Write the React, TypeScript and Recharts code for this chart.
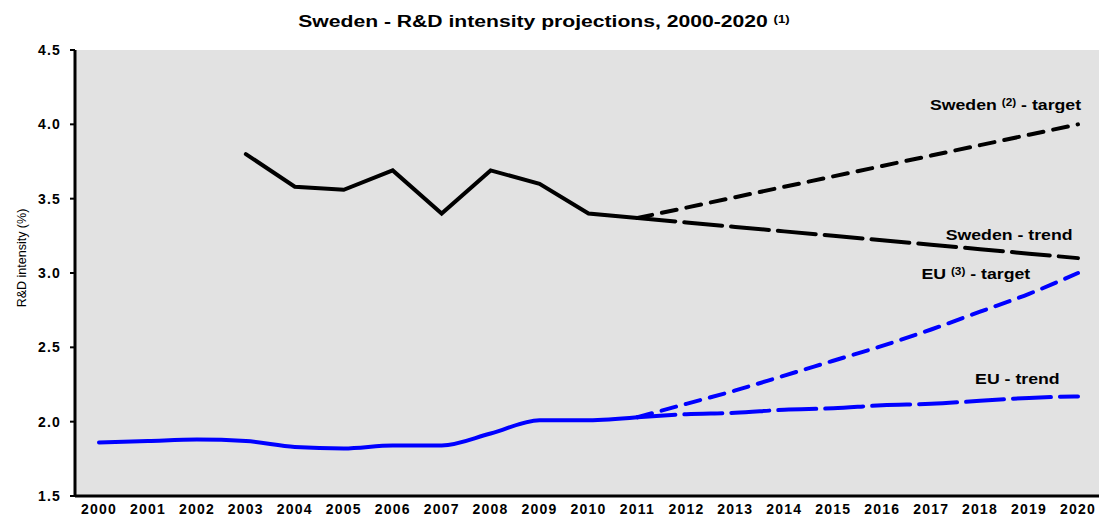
import React from 'react';
import { LineChart, Line, XAxis, YAxis, CartesianGrid } from 'recharts';

const years = [
    '2000', '2001', '2002', '2003', '2004', '2005', '2006', '2007', '2008', '2009', '2010',
    '2011', '2012', '2013', '2014', '2015', '2016', '2017', '2018', '2019', '2020'
];

// null where a series has no value for that year
const swedenActual = [null, null, null, 3.8, 3.58, 3.56, 3.69, 3.4, 3.69, 3.6, 3.4, 3.37, null, null, null, null, null, null, null, null, null];
const swedenTrend = [null, null, null, null, null, null, null, null, null, null, null, 3.37, 3.34, 3.31, 3.28, 3.25, 3.22, 3.19, 3.16, 3.13, 3.1];
const swedenTarget = [null, null, null, null, null, null, null, null, null, null, null, 3.37, 3.44, 3.51, 3.58, 3.65, 3.72, 3.79, 3.86, 3.93, 4.0];
const euActual = [1.86, 1.87, 1.88, 1.87, 1.83, 1.82, 1.84, 1.84, 1.92, 2.01, 2.01, 2.03, null, null, null, null, null, null, null, null, null];
const euTrend = [null, null, null, null, null, null, null, null, null, null, null, 2.03, 2.05, 2.06, 2.08, 2.09, 2.11, 2.12, 2.14, 2.16, 2.17];
const euTarget = [null, null, null, null, null, null, null, null, null, null, null, 2.03, 2.12, 2.21, 2.31, 2.41, 2.51, 2.62, 2.74, 2.86, 3.0];

const yTicks = [1.5, 2.0, 2.5, 3.0, 3.5, 4.0, 4.5];

const chartData = years.map((year, i) => ({
    year,
    swedenActual: swedenActual[i],
    swedenTrend: swedenTrend[i],
    swedenTarget: swedenTarget[i],
    euActual: euActual[i],
    euTrend: euTrend[i],
    euTarget: euTarget[i]
}));

const tickStyle = { fontSize: 14, fontWeight: 'bold' as const, fill: '#000', letterSpacing: 1.2 };

const noteStyle: React.CSSProperties = {
    position: 'absolute',
    fontSize: 15,
    fontWeight: 'bold',
    whiteSpace: 'nowrap',
    transform: 'scaleX(1.18)',
    transformOrigin: 'right center',
    lineHeight: '18px'
};

const supStyle: React.CSSProperties = { fontSize: 10, verticalAlign: 'top', position: 'relative', top: -2 };

export default function App() {
    return (
        <div
            style={{
                position: 'fixed',
                left: 0,
                top: 0,
                width: 1099,
                height: 517,
                overflow: 'hidden',
                background: '#fff',
                fontFamily: '"Liberation Sans", Arial, sans-serif'
            }}
        >
            <div
                style={{
                    position: 'absolute',
                    left: 0,
                    width: 1088,
                    top: 12,
                    textAlign: 'center',
                    fontSize: 16,
                    fontWeight: 'bold',
                    whiteSpace: 'nowrap',
                    transform: 'scaleX(1.32)',
                    transformOrigin: '544px center',
                    lineHeight: '19px'
                }}
            >
                Sweden - R&amp;D intensity projections, 2000-2020 <span style={supStyle}>(1)</span>
            </div>

            <LineChart width={1102} height={517} data={chartData} margin={{ top: 50, right: 0, bottom: 0, left: 0 }}>
                <CartesianGrid fill="#e2e2e2" horizontal={false} vertical={false} />
                <XAxis
                    dataKey="year"
                    height={21}
                    padding={{ left: 24, right: 24 }}
                    tickLine={false}
                    tickSize={0}
                    tickMargin={8}
                    axisLine={{ stroke: '#000', strokeWidth: 3 }}
                    tick={tickStyle}
                    interval={0}
                />
                <YAxis
                    width={75}
                    domain={[1.5, 4.5]}
                    ticks={yTicks}
                    interval={0}
                    tickFormatter={(v: number) => v.toFixed(1)}
                    tickSize={5}
                    tickMargin={9}
                    tickLine={{ stroke: '#000', strokeWidth: 2 }}
                    axisLine={{ stroke: '#000', strokeWidth: 3 }}
                    tick={tickStyle}
                />
                <Line dataKey="swedenTrend" stroke="#000" strokeWidth={4} strokeDasharray="38 9" strokeLinecap="round" dot={false} isAnimationActive={false} />
                <Line dataKey="swedenTarget" stroke="#000" strokeWidth={4} strokeDasharray="15 10" strokeLinecap="round" dot={false} isAnimationActive={false} />
                <Line dataKey="swedenActual" stroke="#000" strokeWidth={4} strokeLinecap="round" dot={false} isAnimationActive={false} />
                <Line dataKey="euTrend" type="monotone" stroke="#0000ff" strokeWidth={4} strokeDasharray="38 9" strokeLinecap="round" dot={false} isAnimationActive={false} />
                <Line dataKey="euTarget" type="monotone" stroke="#0000ff" strokeWidth={4} strokeDasharray="15 10" strokeLinecap="round" dot={false} isAnimationActive={false} />
                <Line dataKey="euActual" type="monotone" stroke="#0000ff" strokeWidth={4} strokeLinecap="round" dot={false} isAnimationActive={false} />
            </LineChart>

            <div
                style={{
                    position: 'absolute',
                    left: 22,
                    top: 258,
                    fontSize: 12.5,
                    whiteSpace: 'nowrap',
                    transform: 'translate(-50%, -50%) rotate(-90deg)'
                }}
            >
                R&amp;D intensity (%)
            </div>

            <div style={{ ...noteStyle, right: 18, top: 96 }}>
                Sweden <span style={supStyle}>(2)</span> - target
            </div>
            <div style={{ ...noteStyle, right: 26, top: 226 }}>Sweden - trend</div>
            <div style={{ ...noteStyle, right: 69, top: 265 }}>
                EU <span style={supStyle}>(3)</span> - target
            </div>
            <div style={{ ...noteStyle, right: 39, top: 370 }}>EU - trend</div>
        </div>
    );
}
